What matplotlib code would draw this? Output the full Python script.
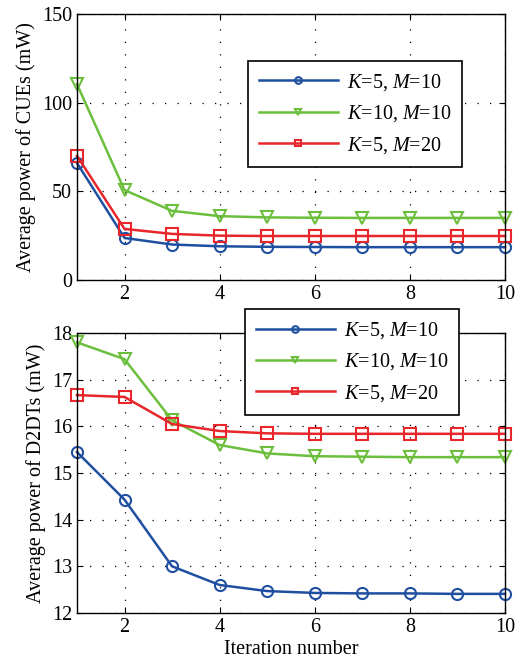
import matplotlib
matplotlib.use("Agg")
import matplotlib.pyplot as plt
import numpy as np

plt.rcParams['font.family'] = ['Liberation Serif', 'DejaVu Serif']
plt.rcParams['mathtext.fontset'] = 'custom'
plt.rcParams['mathtext.rm'] = 'Liberation Serif'
plt.rcParams['mathtext.it'] = 'Liberation Serif:italic'

iterations = [1, 2, 3, 4, 5, 6, 7, 8, 9, 10]
labels = ['$K$=5, $M$=10', '$K$=10, $M$=10', '$K$=5, $M$=20']

cue_k5_m10 = [66, 23.7, 20, 19, 18.7, 18.6, 18.5, 18.5, 18.5, 18.5]
cue_k10_m10 = [110.5, 50.7, 39, 36, 35.3, 35.1, 35, 35, 35, 35]
cue_k5_m20 = [70, 28.8, 26, 25, 24.8, 24.8, 24.8, 24.8, 24.8, 24.8]

d2d_k5_m10 = [15.45, 14.43, 13.0, 12.6, 12.47, 12.43, 12.42, 12.42, 12.41, 12.41]
d2d_k10_m10 = [17.8, 17.44, 16.13, 15.6, 15.42, 15.36, 15.35, 15.34, 15.34, 15.34]
d2d_k5_m20 = [16.67, 16.63, 16.05, 15.9, 15.85, 15.84, 15.84, 15.84, 15.84, 15.84]

colors = ['#1f4fa0', '#6cbf3c', '#e8262b']
markers = ['o', 'v', 's']
FS = 14.5

fig = plt.figure(figsize=(5.2, 6.69), dpi=100)
ax1 = fig.add_axes([0.148, 0.5815, 0.823, 0.3975])
ax2 = fig.add_axes([0.148, 0.0837, 0.823, 0.4185])

def style(ax):
    ax.grid(True, linestyle=(0, (1, 9)), color='black', linewidth=0.9)
    ax.tick_params(direction='in', top=True, right=True, labelsize=FS, length=4)
    for s in ax.spines.values():
        s.set_linewidth(1.0)
    ax.set_xlim(1, 10)
    ax.set_xticks([2, 4, 6, 8, 10])

def legend(ax, x, y):
    leg = ax.legend(loc='upper left', bbox_to_anchor=(x, y), bbox_transform=fig.transFigure,
                    fontsize=FS, frameon=True, fancybox=False, edgecolor='black', borderaxespad=0,
                    handlelength=3.9, handletextpad=0.45, labelspacing=0.52, borderpad=0.55,
                    markerscale=0.6, framealpha=1)
    leg.get_frame().set_linewidth(1.2)
    leg.set_zorder(10)
    return leg

for vals, c, m, lab in zip([cue_k5_m10, cue_k10_m10, cue_k5_m20], colors, markers, labels):
    ax1.plot(iterations, vals, color=c, marker=m, markerfacecolor='none', markeredgecolor=c,
             markersize=8, markeredgewidth=1.5, linewidth=1.8, label=lab, clip_on=False)
style(ax1)
ax1.set_ylim(0, 150)
ax1.set_yticks([0, 50, 100, 150])
ax1.set_ylabel('Average power of CUEs (mW)', fontsize=FS)
legend(ax1, 0.477, 0.909)

for vals, c, m, lab in zip([d2d_k5_m10, d2d_k10_m10, d2d_k5_m20], colors, markers, labels):
    ax2.plot(iterations, vals, color=c, marker=m, markerfacecolor='none', markeredgecolor=c,
             markersize=8, markeredgewidth=1.5, linewidth=1.8, label=lab, clip_on=False)
style(ax2)
ax2.set_ylim(12, 18)
ax2.set_yticks([12, 13, 14, 15, 16, 17, 18])
ax2.set_ylabel('Average power of D2DTs (mW)', fontsize=FS)
ax2.set_xlabel('Iteration number', fontsize=FS, labelpad=2)
legend(ax2, 0.471, 0.538)

fig.savefig('out.png', dpi=100)
